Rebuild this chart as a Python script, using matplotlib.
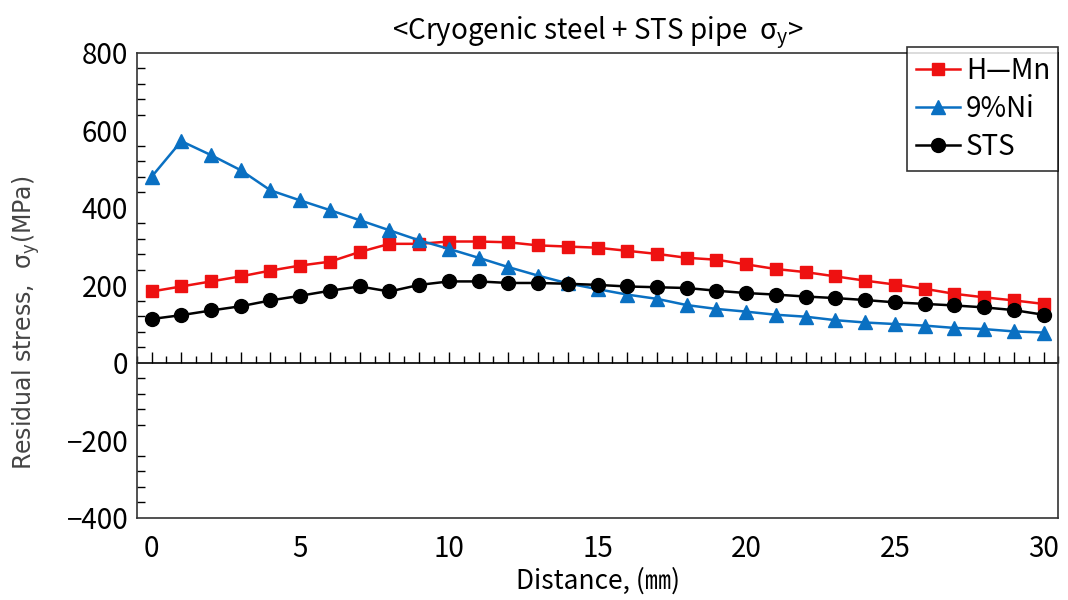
import matplotlib
matplotlib.use('Agg')
import matplotlib.pyplot as plt
import numpy as np
from matplotlib.ticker import MultipleLocator

plt.rcParams['font.family'] = ['Noto Sans CJK KR', 'DejaVu Sans']

# 데이터
distance = np.arange(0, 31)
h_mn = [184, 197, 210, 223, 238, 251, 261, 286, 307, 307, 313, 313, 311, 303, 300, 297,
        289, 281, 271, 266, 254, 242, 234, 223, 212, 202, 191, 178, 169, 161, 152]
ni9 = [480, 572, 536, 497, 445, 419, 394, 368, 342, 316, 294, 271, 247, 225, 205, 190,
       176, 165, 149, 139, 132, 124, 119, 110, 104, 100, 96, 90, 87, 81, 78]
sts = [113, 123, 135, 146, 161, 173, 186, 197, 184, 201, 210, 210, 206, 206, 204, 201,
       197, 195, 193, 186, 180, 176, 171, 167, 162, 156, 152, 148, 143, 136, 124]
labels = ['H\u2014Mn', '9%Ni', 'STS']

fig = plt.figure(figsize=(10.68, 6), dpi=100)
ax = fig.add_axes([0.128, 0.137, 0.863, 0.775])

ax.plot(distance, h_mn, color='#EE1111', marker='s', markersize=9, linewidth=1.8, label=labels[0])
ax.plot(distance, ni9, color='#0A70C2', marker='^', markersize=10, linewidth=1.8, label=labels[1])
ax.plot(distance, sts, color='black', marker='o', markersize=10, linewidth=1.8, label=labels[2])

ax.set_xlim(-0.5, 30.5)
ax.set_ylim(-400, 800)
ax.set_xticks(range(0, 31, 5))
ax.set_yticks(range(-400, 801, 200))
ax.yaxis.set_minor_locator(MultipleLocator(40))
ax.tick_params(axis='y', which='both', direction='in', labelsize=20, right=False)
ax.tick_params(axis='y', which='major', length=0, pad=6)
ax.tick_params(axis='y', which='minor', length=6, width=1)
ax.tick_params(axis='x', which='both', length=0, labelsize=20, pad=12)

# 0 위치의 가로축 (눈금 포함)
sec = ax.secondary_xaxis(1 / 3)
sec.set_xticks(np.arange(0, 30.6, 1))
sec.xaxis.set_minor_locator(MultipleLocator(0.5))
sec.tick_params(axis='x', which='major', direction='in', length=8, width=1, labelbottom=False)
sec.tick_params(axis='x', which='minor', direction='in', length=5, width=1)
sec.spines['bottom'].set_linewidth(1.2)

for s in ax.spines.values():
    s.set_linewidth(1.2)
    s.set_color('#333333')

ax.set_title('<Cryogenic steel + STS pipe  $\\mathregular{\\sigma_y}$>', fontsize=20, pad=10)
ax.set_xlabel('Distance, (\u339c)', fontsize=19, labelpad=2)
ax.set_ylabel('Residual stress,  $\\mathregular{\\sigma_y}$(MPa)', fontsize=17, family=['DejaVu Sans'],
              color='#444444')
ax.yaxis.set_label_coords(-0.103, 0.42)

leg = ax.legend(loc='upper right', bbox_to_anchor=(1.0, 1.012), fontsize=20, frameon=True,
                fancybox=False, edgecolor='black', handlelength=1.6, handletextpad=0.2,
                borderpad=0.3, labelspacing=0.3, borderaxespad=0)
leg.get_frame().set_linewidth(1.2)

fig.savefig('out.png', dpi=100)
